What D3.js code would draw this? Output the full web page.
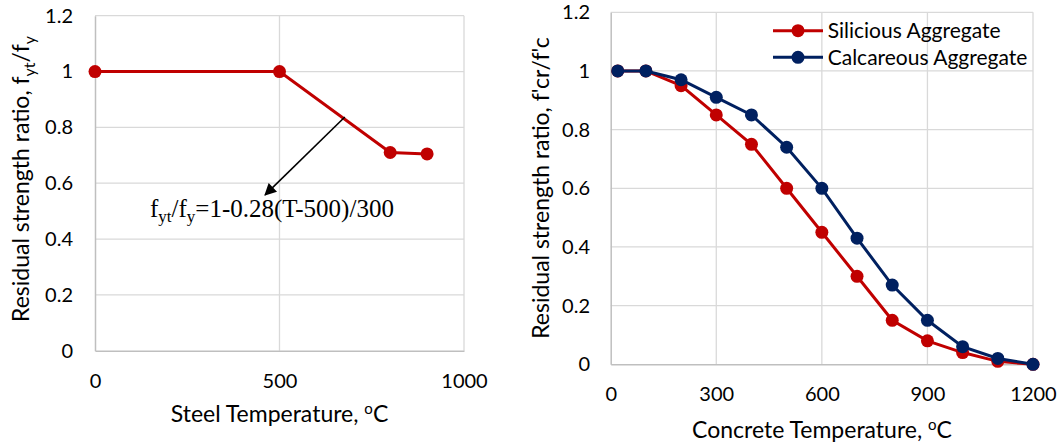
<!DOCTYPE html>
<html>
<head>
<meta charset="utf-8">
<script src="https://cdn.jsdelivr.net/npm/d3@7"></script>
<style>
  body { margin: 0; background: #fff; }
  svg { display: block; }
  .tick text { font-family: Lato, "Open Sans", sans-serif; font-size: 20px; fill: #000; }
  .title { font-family: Lato, "Open Sans", sans-serif; font-size: 23px; fill: #000; }
  .legend { font-family: Lato, "Open Sans", sans-serif; font-size: 21px; fill: #000; }
  .eq { font-family: "Liberation Serif", "Times New Roman", serif; font-size: 25px; fill: #000; }
</style>
</head>
<body>
<svg id="chart" width="1060" height="445"></svg>
<script>
"use strict";

// steel chart
const steelTemp = [0, 500, 800, 900];
const steelRatio = [1, 1, 0.71, 0.705];
const steelXTicks = [0, 500, 1000];

// concrete chart
const concreteTemp = [20, 100, 200, 300, 400, 500, 600, 700, 800, 900, 1000, 1100, 1200];
const silicious = [1, 1, 0.95, 0.85, 0.75, 0.6, 0.45, 0.3, 0.15, 0.08, 0.04, 0.01, 0];
const calcareous = [1, 1, 0.97, 0.91, 0.85, 0.74, 0.6, 0.43, 0.27, 0.15, 0.06, 0.02, 0];
const concreteXTicks = [0, 300, 600, 900, 1200];
const seriesNames = ["Silicious Aggregate", "Calcareous Aggregate"];

const yTicks = [0, 0.2, 0.4, 0.6, 0.8, 1, 1.2];

// annotation on the steel chart (data units)
const arrowFrom = [677, 0.837];
const arrowTo = [461, 0.558];
const eqAt = [149, 0.48];

const RED = "#C00000", NAVY = "#002060";
const GRID = "#d9d9d9", AXIS = "#bfbfbf";

const svg = d3.select("#chart");

svg.append("defs").append("marker")
    .attr("id", "arrow")
    .attr("viewBox", "0 0 10 10")
    .attr("refX", 9).attr("refY", 5)
    .attr("markerWidth", 15).attr("markerHeight", 12)
    .attr("markerUnits", "userSpaceOnUse")
    .attr("orient", "auto")
  .append("path")
    .attr("d", "M0,0 L10,5 L0,10 z")
    .attr("fill", "#000");

/**
 * Draws the frame of one panel: grid, axes, tick labels.
 */
function panel(x, y, xTicks, yPad) {
  const g = svg.append("g");
  const [x0, x1] = x.range(), [y0, y1] = y.range();

  g.selectAll(".hgrid").data(yTicks.slice(1)).join("line")
      .attr("x1", x0).attr("x2", x1)
      .attr("y1", d => y(d)).attr("y2", d => y(d))
      .attr("stroke", GRID).attr("stroke-width", 1.3);
  g.selectAll(".vgrid").data(xTicks.slice(1)).join("line")
      .attr("x1", d => x(d)).attr("x2", d => x(d))
      .attr("y1", y0).attr("y2", y1)
      .attr("stroke", GRID).attr("stroke-width", 1.3);

  const xa = g.append("g")
      .attr("transform", `translate(0,${y0})`)
      .call(d3.axisBottom(x).tickValues(xTicks).tickSize(0).tickPadding(23).tickFormat(d3.format("d")));
  xa.select(".domain").attr("stroke", AXIS).attr("stroke-width", 1.5);

  const ya = g.append("g")
      .attr("transform", `translate(${x0},0)`)
      .call(d3.axisLeft(y).tickValues(yTicks).tickSize(0).tickPadding(yPad).tickFormat(d3.format("~g")));
  ya.select(".domain").attr("stroke", AXIS).attr("stroke-width", 1.5);

  return g;
}

function series(g, x, y, xs, ys, color) {
  const pts = xs.map((d, i) => [d, ys[i]]);
  g.append("path")
      .datum(pts)
      .attr("fill", "none")
      .attr("stroke", color)
      .attr("stroke-width", 3)
      .attr("d", d3.line().x(d => x(d[0])).y(d => y(d[1])));
  g.selectAll(null).data(pts).join("circle")
      .attr("cx", d => x(d[0])).attr("cy", d => y(d[1]))
      .attr("r", 6.5).attr("fill", color);
}

function degTitle(g, label, cx, cy) {
  const t = g.append("text").attr("class", "title")
      .attr("x", cx).attr("y", cy).attr("text-anchor", "middle");
  t.append("tspan").text(label);
  t.append("tspan").attr("dy", -8).attr("font-size", "15px").text("o");
  t.append("tspan").attr("dy", 8).text("C");
}

// ---- left: steel ----
const xs = d3.scaleLinear().domain([0, 1000]).range([95, 464]);
const ys = d3.scaleLinear().domain([0, 1.2]).range([350.7, 15.7]);
const gl = panel(xs, ys, steelXTicks, 22);
series(gl, xs, ys, steelTemp, steelRatio, RED);

degTitle(gl, "Steel Temperature, ", 279.5, 421.7);

const ylt = gl.append("text").attr("class", "title")
    .attr("transform", "translate(29,179) rotate(-90)")
    .attr("text-anchor", "middle");
ylt.append("tspan").text("Residual strength ratio, f");
ylt.append("tspan").attr("dy", 6).attr("font-size", "16px").text("yt");
ylt.append("tspan").attr("dy", -6).text("/f");
ylt.append("tspan").attr("dy", 6).attr("font-size", "16px").text("y");

gl.append("line")
    .attr("x1", xs(arrowFrom[0])).attr("y1", ys(arrowFrom[1]))
    .attr("x2", xs(arrowTo[0])).attr("y2", ys(arrowTo[1]))
    .attr("stroke", "#000").attr("stroke-width", 1.6)
    .attr("marker-end", "url(#arrow)");

const eq = gl.append("text").attr("class", "eq")
    .attr("x", xs(eqAt[0])).attr("y", ys(eqAt[1]));
eq.append("tspan").text("f");
eq.append("tspan").attr("dy", 5).attr("font-size", "17px").text("yt");
eq.append("tspan").attr("dy", -5).text("/f");
eq.append("tspan").attr("dy", 5).attr("font-size", "17px").text("y");
eq.append("tspan").attr("dy", -5).text("=1-0.28(T-500)/300");

// ---- right: concrete ----
const xc = d3.scaleLinear().domain([0, 1200]).range([610.7, 1033]);
const yc = d3.scaleLinear().domain([0, 1.2]).range([364.3, 12.3]);
const gr = panel(xc, yc, concreteXTicks, 20.7);
series(gr, xc, yc, concreteTemp, silicious, RED);
series(gr, xc, yc, concreteTemp, calcareous, NAVY);

degTitle(gr, "Concrete Temperature, ", 822, 438);

gr.append("text").attr("class", "title")
    .attr("transform", "translate(549,188) rotate(-90)")
    .attr("text-anchor", "middle")
    .text("Residual strength ratio, f'cr/f'c");

// legend
const leg = gr.append("g").attr("transform", "translate(773,30.7)");
const legRows = leg.selectAll("g").data(seriesNames).join("g")
    .attr("transform", (d, i) => `translate(0,${i * 26.6})`);
legRows.append("line")
    .attr("x1", 0).attr("x2", 50)
    .attr("stroke", (d, i) => i ? NAVY : RED).attr("stroke-width", 3);
legRows.append("circle")
    .attr("cx", 25).attr("r", 6.5)
    .attr("fill", (d, i) => i ? NAVY : RED);
legRows.append("text").attr("class", "legend")
    .attr("x", 54.7).attr("dy", "0.35em")
    .text(d => d);
</script>
</body>
</html>
